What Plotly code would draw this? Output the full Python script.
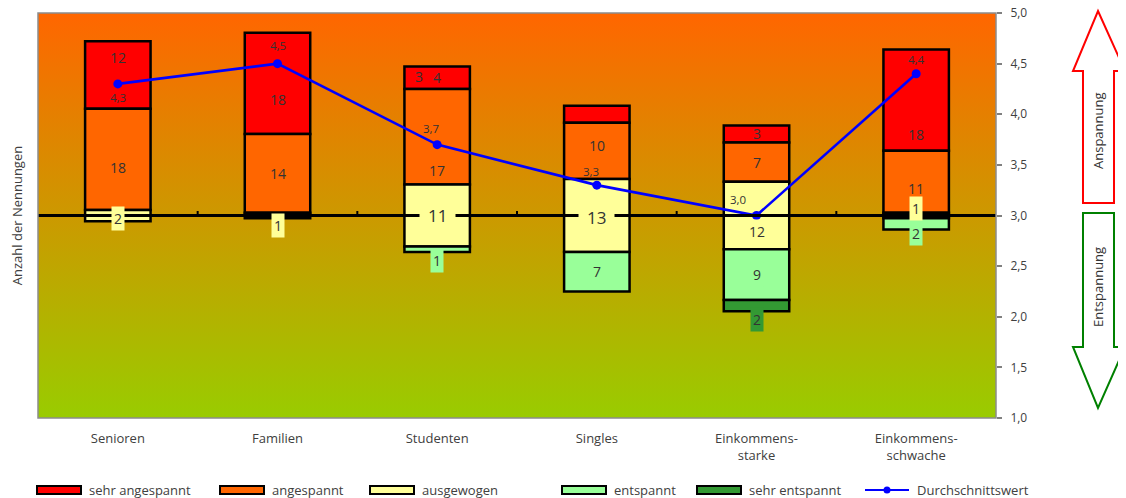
import base64
import plotly.graph_objects as go

# ---------------- data ----------------
categories = ["Senioren", "Familien", "Studenten", "Singles",
              "Einkommens-<br>starke", "Einkommens-<br>schwache"]
sehr_angespannt = [12, 18, 4, 3, 3, 18]
angespannt = [18, 14, 17, 10, 7, 11]
ausgewogen = [2, 1, 11, 13, 12, 1]
entspannt = [0, 0, 1, 7, 9, 2]
sehr_entspannt = [0, 0, 0, 0, 2, 0]
durchschnitt = [4.3, 4.5, 3.7, 3.3, 3.0, 4.4]

series_names = ["sehr angespannt", "angespannt", "ausgewogen", "entspannt", "sehr entspannt"]
line_name = "Durchschnittswert"
y_title = "Anzahl der Nennungen"
arrow_up_text = "Anspannung"
arrow_down_text = "Entspannung"

# ---------------- style / layout ----------------
COLORS = ["#FF0000", "#FF6600", "#FFFF99", "#99FF99", "#339933"]
LINE_COLOR = "#0000FF"
TEXT = "#333333"
AXIS_TEXT = "#404040"
FONT = "Open Sans"
BODY = 8                      # default page body margin
W, H = 1126 - BODY, 498 - BODY
PL, PT, PR, PB = 38, 13, 996, 418   # plot area in page pixels
PW, PH = PR - PL, PB - PT
L, T = PL - BODY, PT - BODY
R, B = W - L - PW, H - T - PH
YMAX = 36  # hidden count axis symmetric range

# manual label nudges (xshift, yshift) in px, keyed by (category index, series index)
NUDGE = {
    (0, 0): (0, 17), (0, 1): (0, -8), (0, 2): (0, -3),
    (1, 0): (0, -16), (1, 2): (0, -10),
    (2, 1): (0, -34), (2, 3): (0, -11),
    (3, 0): (-178, 38), (3, 1): (0, 5), (3, 2): (0, -2),
    (4, 2): (0, -16), (4, 4): (0, -14),
    (5, 0): (0, -34), (5, 1): (0, -7), (5, 2): (0, 7), (5, 3): (0, -10),
}
BIG = {(2, 2), (3, 2)}
AVG_NUDGE = [(0, -14), (0, 18), (-6, 16), (-6, 14), (-19, 16), (0, 14)]
LEGEND_X = [37, 220, 370, 562, 697, 865]
LEGEND_Y = 490

x = list(range(len(categories)))

# bases: ausgewogen centred on the zero line
bases = [[], [], [], [], []]
for i in range(len(categories)):
    half = ausgewogen[i] / 2
    bases[2].append(-half)
    bases[1].append(half)
    bases[0].append(half + angespannt[i])
    bases[3].append(-half - entspannt[i])
    bases[4].append(-half - entspannt[i] - sehr_entspannt[i])
values = [sehr_angespannt, angespannt, ausgewogen, entspannt, sehr_entspannt]

fig = go.Figure()
for s in range(5):
    vals = [v if v else None for v in values[s]]
    fig.add_bar(x=x, y=vals, base=bases[s], width=0.41, name=series_names[s],
                marker=dict(color=COLORS[s], line=dict(color="black", width=2.5)),
                yaxis="y", hoverinfo="skip", showlegend=False)

fig.add_scatter(x=x, y=durchschnitt, yaxis="y2", mode="lines+markers", name=line_name,
                line=dict(color=LINE_COLOR, width=2.6),
                marker=dict(color=LINE_COLOR, size=9), hoverinfo="skip", showlegend=False)


def px_x(p):
    return (p - PL) / PW


def px_y(p):
    return (PB - p) / PH


annotations = []
for s in range(5):
    for i in range(len(categories)):
        v = values[s][i]
        if not v:
            continue
        xs, ys = NUDGE.get((i, s), (0, 0))
        big = (i, s) in BIG
        annotations.append(dict(
            x=i, y=bases[s][i] + v / 2, xref="x", yref="y", text=str(v),
            showarrow=False, xshift=xs, yshift=ys, xanchor="center", yanchor="middle",
            font=dict(family=FONT, size=17 if big else 14, color=TEXT),
            bgcolor=COLORS[s] if s >= 2 else None, borderpad=8 if big else 2))
for i, v in enumerate(durchschnitt):
    xs, ys = AVG_NUDGE[i]
    annotations.append(dict(
        x=i, y=v, xref="x", yref="y2", text=f"{v:.1f}".replace(".", ","),
        showarrow=False, xshift=xs, yshift=ys, xanchor="center", yanchor="middle",
        font=dict(family=FONT, size=11.5, color=TEXT)))


def path(points):
    return "M " + " L ".join(f"{px_x(a):.5f},{px_y(b):.5f}" for a, b in points) + " Z"


up_arrow = [(1098, 11), (1125, 71), (1114, 71), (1114, 203), (1083, 203), (1083, 71), (1073, 71)]
down_arrow = [(1083, 213), (1114, 213), (1114, 347), (1125, 347), (1098, 408), (1073, 347), (1083, 347)]

annotations += [
    dict(x=px_x(1098), y=px_y(131), xref="paper", yref="paper", text=arrow_up_text,
         textangle=-90, showarrow=False, xanchor="center", yanchor="middle",
         font=dict(family=FONT, size=13, color=TEXT)),
    dict(x=px_x(1098), y=px_y(287), xref="paper", yref="paper", text=arrow_down_text,
         textangle=-90, showarrow=False, xanchor="center", yanchor="middle",
         font=dict(family=FONT, size=13, color=TEXT)),
]

shapes = [
    # zero line (category axis crossing)
    dict(type="line", xref="x", yref="y", x0=-0.5, x1=len(categories) - 0.5, y0=0, y1=0,
         line=dict(color="black", width=3), layer="above"),
    # plot border
    dict(type="rect", xref="paper", yref="paper", x0=0, x1=1, y0=0, y1=1,
         line=dict(color="#8C8C8C", width=1.5), layer="above"),
    dict(type="path", xref="paper", yref="paper", path=path(up_arrow),
         line=dict(color="#FF0000", width=2), fillcolor="white"),
    dict(type="path", xref="paper", yref="paper", path=path(down_arrow),
         line=dict(color="#008000", width=2), fillcolor="white"),
]
for k in range(len(categories) - 1):
    shapes.append(dict(type="line", xref="x", yref="y", x0=k + 0.5, x1=k + 0.5, y0=0, y1=0.8,
                       line=dict(color="black", width=2), layer="above"))

# legend (drawn below the plot)
for s in range(5):
    lx = LEGEND_X[s]
    shapes.append(dict(type="rect", xref="paper", yref="paper",
                       x0=px_x(lx), x1=px_x(lx + 44), y0=px_y(LEGEND_Y + 4), y1=px_y(LEGEND_Y - 4),
                       fillcolor=COLORS[s], line=dict(color="black", width=2)))
    annotations.append(dict(x=px_x(lx + 50), y=px_y(LEGEND_Y), xref="paper", yref="paper",
                            text=series_names[s], showarrow=False, xanchor="left",
                            yanchor="middle", font=dict(family=FONT, size=13, color=AXIS_TEXT)))
lx = LEGEND_X[5]
shapes.append(dict(type="line", xref="paper", yref="paper", x0=px_x(lx), x1=px_x(lx + 44),
                   y0=px_y(LEGEND_Y), y1=px_y(LEGEND_Y), line=dict(color=LINE_COLOR, width=2)))
shapes.append(dict(type="circle", xref="paper", yref="paper",
                   x0=px_x(lx + 18.5), x1=px_x(lx + 25.5), y0=px_y(LEGEND_Y + 3.5),
                   y1=px_y(LEGEND_Y - 3.5), fillcolor=LINE_COLOR, line=dict(width=0)))
annotations.append(dict(x=px_x(lx + 50), y=px_y(LEGEND_Y), xref="paper", yref="paper",
                        text=line_name, showarrow=False, xanchor="left", yanchor="middle",
                        font=dict(family=FONT, size=13, color=AXIS_TEXT)))

svg = ('<svg xmlns="http://www.w3.org/2000/svg" width="100" height="100" preserveAspectRatio="none">'
       '<defs><linearGradient id="g" x1="0" y1="0" x2="0" y2="1">'
       '<stop offset="0" stop-color="#FF6600"/><stop offset="1" stop-color="#99CC00"/>'
       '</linearGradient></defs><rect width="100" height="100" fill="url(#g)"/></svg>')
bg_src = "data:image/svg+xml;base64," + base64.b64encode(svg.encode()).decode()

fig.update_layout(
    width=W, height=H,
    margin=dict(l=L, r=R, t=T, b=B, autoexpand=False),
    paper_bgcolor="white", plot_bgcolor="rgba(0,0,0,0)",
    barmode="overlay", separators=",.",
    font=dict(family=FONT, size=12, color=AXIS_TEXT),
    images=[dict(source=bg_src, xref="paper", yref="paper", x=0, y=1, sizex=1, sizey=1,
                 sizing="stretch", layer="below", xanchor="left", yanchor="top")],
    xaxis=dict(range=[-0.5, len(categories) - 0.5], tickvals=x, ticktext=categories,
               showgrid=False, zeroline=False, showline=False, ticks="",
               tickfont=dict(family=FONT, size=13, color=AXIS_TEXT), ticklabelstandoff=11),
    yaxis=dict(range=[-YMAX, YMAX], showticklabels=False, showgrid=False, zeroline=False,
               showline=False, ticks="",
               title=dict(text=y_title, font=dict(family=FONT, size=13, color=AXIS_TEXT),
                          standoff=13)),
    yaxis2=dict(range=[1, 5], dtick=0.5, tick0=1, tickformat=".1f", overlaying="y", side="right",
                showgrid=False, zeroline=False, showline=False, ticks="outside",
                ticklen=5, tickcolor="#808080", tickwidth=1.5, ticklabeloverflow="allow",
                tickfont=dict(family=FONT, size=12, color=AXIS_TEXT), ticklabelstandoff=6),
    showlegend=False,
    annotations=annotations,
    shapes=shapes,
)

fig.write_html("out.html")
